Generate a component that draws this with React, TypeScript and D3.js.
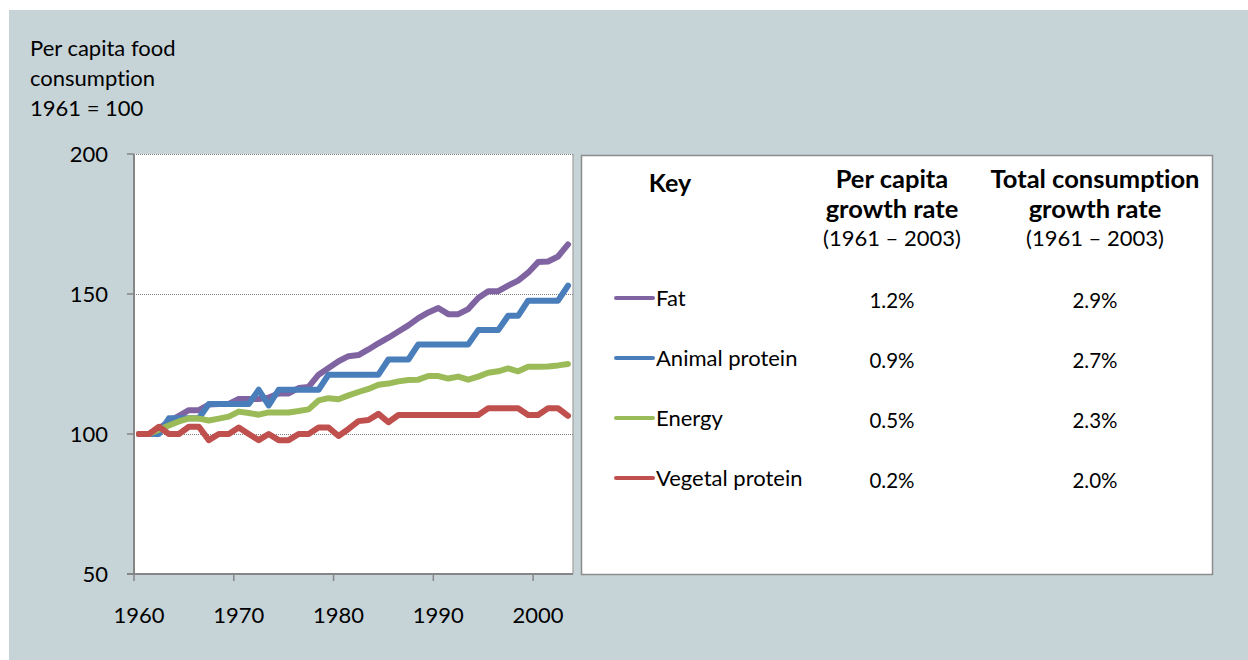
import React from 'react';
import * as d3 from 'd3';

// 44 category points (line-chart categories), first = 1961
const categories = [
  1961, 1962, 1963, 1964, 1965, 1966, 1967, 1968, 1969, 1970, 1971,
  1972, 1973, 1974, 1975, 1976, 1977, 1978, 1979, 1980, 1981, 1982,
  1983, 1984, 1985, 1986, 1987, 1988, 1989, 1990, 1991, 1992, 1993,
  1994, 1995, 1996, 1997, 1998, 1999, 2000, 2001, 2002, 2003, 2004,
];

const fatValues = [
  100, 100, 102, 104.5, 106.5, 108.5, 108.5, 110.5, 110.7, 110.7, 112.5,
  112.5, 112.5, 113, 114.5, 114.5, 116.4, 116.8, 121.2, 123.6, 126, 127.8,
  128.2, 130.2, 132.4, 134.4, 136.6, 138.8, 141.4, 143.4, 145, 142.8, 142.8,
  144.6, 148.6, 151, 151, 153, 154.8, 157.6, 161.4, 161.6, 163.4, 167.7,
];
const animalValues = [
  100, 100, 100, 105.6, 105.6, 105.6, 105.6, 110.7, 110.7, 110.7, 110.7,
  110.7, 115.8, 110.2, 115.8, 115.8, 115.8, 115.8, 115.8, 121.2, 121.2, 121.2,
  121.2, 121.2, 121.2, 126.6, 126.6, 126.6, 132, 132, 132, 132, 132,
  132, 137.1, 137.1, 137.1, 142.2, 142.2, 147.6, 147.6, 147.6, 147.6, 153,
];
const energyValues = [
  100, 100, 101.5, 103, 104.5, 105.6, 105.5, 104.8, 105.5, 106.2, 108,
  107.5, 106.9, 107.7, 107.7, 107.7, 108.2, 108.8, 112, 112.8, 112.4, 113.8,
  115, 116.1, 117.6, 118, 118.8, 119.3, 119.4, 120.7, 120.7, 119.8, 120.5,
  119.4, 120.5, 121.9, 122.4, 123.4, 122.4, 124, 124, 124.1, 124.5, 125,
];
const vegetalValues = [
  100, 100, 102.6, 100, 100, 102.6, 102.6, 97.8, 100, 100, 102.3,
  100, 97.8, 100, 97.8, 97.8, 100, 100, 102.3, 102.3, 99.3, 101.8,
  104.6, 105, 107.2, 104.2, 106.8, 106.8, 106.8, 106.8, 106.8, 106.8, 106.8,
  106.8, 106.8, 109.2, 109.2, 109.2, 109.2, 106.8, 106.8, 109.2, 109.2, 106.5,
];

const seriesNames = ['Fat', 'Animal protein', 'Energy', 'Vegetal protein'];
const seriesColors = ['#8064a2', '#4a7ebb', '#9bbb59', '#c0504d'];
const seriesData = [fatValues, animalValues, energyValues, vegetalValues];
const perCapitaRates = ['1.2%', '0.9%', '0.5%', '0.2%'];
const totalRates = ['2.9%', '2.7%', '2.3%', '2.0%'];

const yTicks = [50, 100, 150, 200];
const gridValues = [100, 150, 200];
const xTicks = [1960, 1970, 1980, 1990, 2000];
const titleLines = ['Per capita food', 'consumption', '1961 = 100'];

const FONT = 'Lato, Carlito, Calibri, sans-serif';

export default function App() {
  const W = 1248;
  const H = 660;
  const plot = { left: 134, top: 154, right: 573, bottom: 574 };

  const xBand = d3
    .scaleBand<number>()
    .domain(categories)
    .range([plot.left, plot.right])
    .paddingInner(0)
    .paddingOuter(0);
  const xCenter = (c: number) => (xBand(c) as number) + xBand.bandwidth() / 2;
  const xAxisScale = d3.scaleLinear().domain([1960, 2004]).range([plot.left, plot.right]);
  const y = d3.scaleLinear().domain([50, 200]).range([plot.bottom, plot.top]);

  const lineGen = d3
    .line<number>()
    .x((_, i) => xCenter(categories[i]))
    .y((d) => y(d));

  const table = { left: 581.5, top: 155.5, right: 1212.5, bottom: 574.5 };
  const rowY = d3.scalePoint<number>().domain([0, 1, 2, 3]).range([298, 478]);
  const col1 = 892;
  const col2 = 1095;

  return (
    <svg
      width={W}
      height={H}
      style={{ position: 'absolute', left: 0, top: 0, display: 'block', fontVariantLigatures: 'none' }}
      fontFamily={FONT}
    >
      <rect x={0} y={0} width={W} height={H} fill="#ffffff" />
      <rect x={9} y={10} width={W - 9} height={H - 10} fill="#c6d4d8" />

      {/* axis title */}
      {titleLines.map((t, i) => (
        <text key={t} x={30} y={56 + i * 30} fontSize={22} fill="#000">
          {t}
        </text>
      ))}

      {/* plot area */}
      <rect
        x={plot.left}
        y={plot.top}
        width={plot.right - plot.left}
        height={plot.bottom - plot.top}
        fill="#ffffff"
      />
      <line x1={plot.right} x2={plot.right} y1={plot.top} y2={plot.bottom} stroke="#a0a0a0" strokeWidth={1.2} />
      {gridValues.map((v) => (
        <line
          key={v}
          x1={plot.left}
          x2={plot.right}
          y1={Math.round(y(v)) + 0.5}
          y2={Math.round(y(v)) + 0.5}
          stroke="#7f7f7f"
          strokeWidth={1}
          strokeDasharray="1,1"
        />
      ))}

      {/* lines */}
      {seriesData.map((vals, i) => (
        <path
          key={seriesNames[i]}
          d={lineGen(vals) || ''}
          fill="none"
          stroke={seriesColors[i]}
          strokeWidth={6}
          strokeLinejoin="round"
          strokeLinecap="round"
        />
      ))}

      {/* axes */}
      <line x1={plot.left} x2={plot.left} y1={plot.top} y2={plot.bottom} stroke="#868686" strokeWidth={2} />
      <line x1={plot.left - 7} x2={plot.right} y1={plot.bottom} y2={plot.bottom} stroke="#868686" strokeWidth={2} />
      {yTicks.map((v) => (
        <g key={v}>
          <line x1={plot.left - 7} x2={plot.left} y1={y(v)} y2={y(v)} stroke="#868686" strokeWidth={1.5} />
          <text x={108} y={y(v) + 8} fontSize={22} textAnchor="end" fill="#000">
            {v}
          </text>
        </g>
      ))}
      {xTicks.map((v) => (
        <g key={v}>
          <line
            x1={xAxisScale(v)}
            x2={xAxisScale(v)}
            y1={plot.bottom}
            y2={plot.bottom + 7}
            stroke="#868686"
            strokeWidth={1.5}
          />
          <text x={xAxisScale(v) + 5} y={623} fontSize={22} textAnchor="middle" fill="#000">
            {v}
          </text>
        </g>
      ))}

      {/* key table */}
      <rect
        x={table.left}
        y={table.top}
        width={table.right - table.left}
        height={table.bottom - table.top}
        fill="#ffffff"
        stroke="#8c8c8c"
        strokeWidth={1.5}
      />
      <text x={670} y={192} fontSize={25} fontWeight="bold" textAnchor="middle" fill="#000">
        Key
      </text>
      <text x={col1} y={188} fontSize={25.5} fontWeight="bold" textAnchor="middle" fill="#000">
        Per capita
      </text>
      <text x={col1} y={218} fontSize={25.5} fontWeight="bold" textAnchor="middle" fill="#000">
        growth rate
      </text>
      <text x={col1} y={246} fontSize={22} textAnchor="middle" fill="#000">
        (1961 – 2003)
      </text>
      <text x={col2} y={188} fontSize={25.5} fontWeight="bold" textAnchor="middle" fill="#000">
        Total consumption
      </text>
      <text x={col2} y={218} fontSize={25.5} fontWeight="bold" textAnchor="middle" fill="#000">
        growth rate
      </text>
      <text x={col2} y={246} fontSize={22} textAnchor="middle" fill="#000">
        (1961 – 2003)
      </text>

      {seriesNames.map((name, i) => {
        const ry = rowY(i) as number;
        return (
          <g key={name}>
            <line
              x1={616}
              x2={653}
              y1={ry}
              y2={ry}
              stroke={seriesColors[i]}
              strokeWidth={4}
              strokeLinecap="round"
            />
            <text x={656} y={ry + 8} fontSize={22} fill="#000">
              {name}
            </text>
            <text x={col1} y={ry + 10} fontSize={20.5} textAnchor="middle" fill="#000">
              {perCapitaRates[i]}
            </text>
            <text x={col2} y={ry + 10} fontSize={20.5} textAnchor="middle" fill="#000">
              {totalRates[i]}
            </text>
          </g>
        );
      })}
    </svg>
  );
}
